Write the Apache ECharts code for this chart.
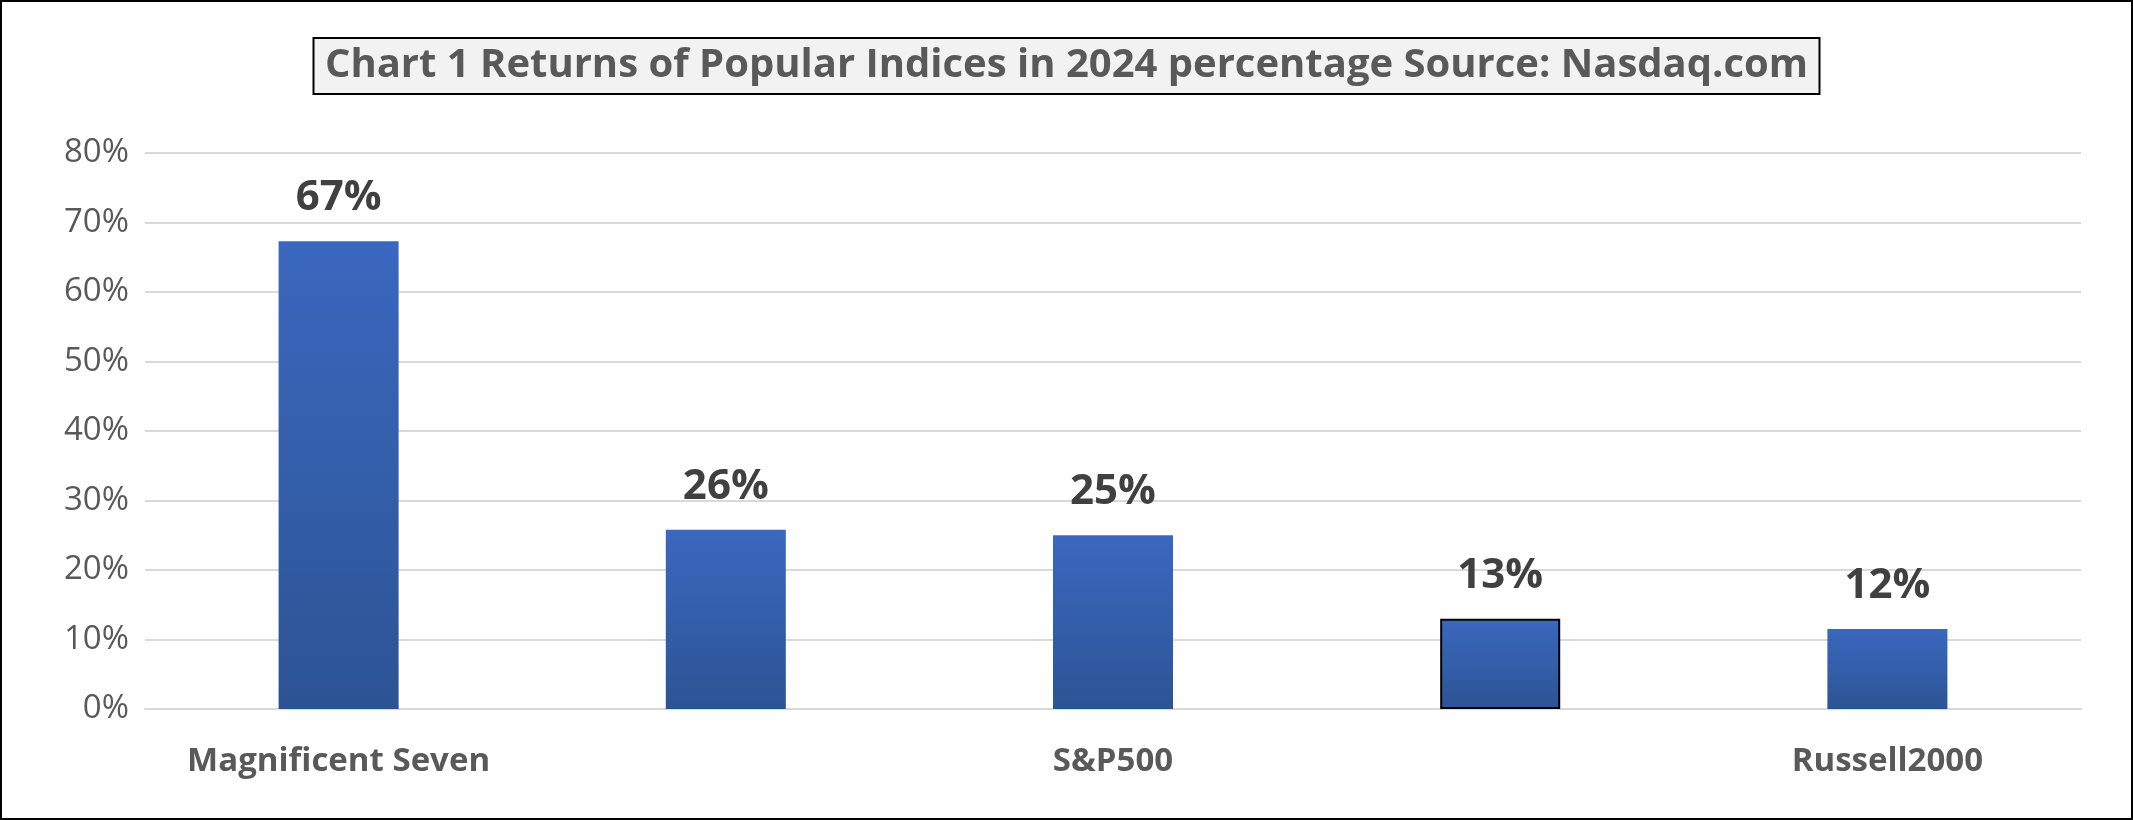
<!DOCTYPE html>
<html><head><meta charset="utf-8">
<script src="https://cdn.jsdelivr.net/npm/echarts@6/dist/echarts.min.js"></script>
<style>html,body{margin:0;padding:0;background:#fff}#c{width:2129px;height:816px;border:2px solid #000}</style>
</head><body><div id="c"></div>
<script>
const categories=['Magnificent Seven','Nasdaq100','S&P500','S&P500 Equal Weight','Russell2000']
const values=[67.3,25.8,25.0,13.0,11.5]
const labels=['67%','26%','25%','13%','12%']

const chart=echarts.init(document.getElementById('c'))
const grad=new echarts.graphic.LinearGradient(0,0,0,1,[
    {offset:0,color:'#3a68bf'},
    {offset:1,color:'#2c5494'}
])
chart.setOption({
    animation:false,
    title:{
        text:'Chart 1 Returns of Popular Indices in 2024 percentage Source: Nasdaq.com',
        left:'center',top:36,
        backgroundColor:'#f2f2f2',borderColor:'#000',borderWidth:2,
        padding:[8,12],
        textStyle:{fontFamily:'Open Sans',fontWeight:'bold',fontSize:40,color:'#595959'}
    },
    grid:{left:143,right:50,top:151,bottom:109},
    xAxis:{
        type:'category',data:categories,
        axisTick:{show:false},
        axisLine:{lineStyle:{color:'#d9d9d9',width:2}},
        axisLabel:{fontFamily:'Open Sans',fontWeight:'bold',fontSize:33,color:'#595959',margin:36}
    },
    yAxis:{
        type:'value',min:0,max:80,interval:10,
        axisLabel:{formatter:'{value}%',fontFamily:'Open Sans',fontSize:33,color:'#595959',margin:16},
        splitLine:{lineStyle:{color:'#d9d9d9',width:2}}
    },
    series:[{
        type:'bar',barWidth:'31%',
        data:values.map((v,i)=>({value:v,itemStyle:i===3?{borderColor:'#000',borderWidth:2}:{}})),
        itemStyle:{color:grad},
        label:{show:true,position:'top',distance:22,formatter:p=>labels[p.dataIndex],
            fontFamily:'Open Sans',fontWeight:'bold',fontSize:42,color:'#404040'}
    }]
})
</script></body></html>
